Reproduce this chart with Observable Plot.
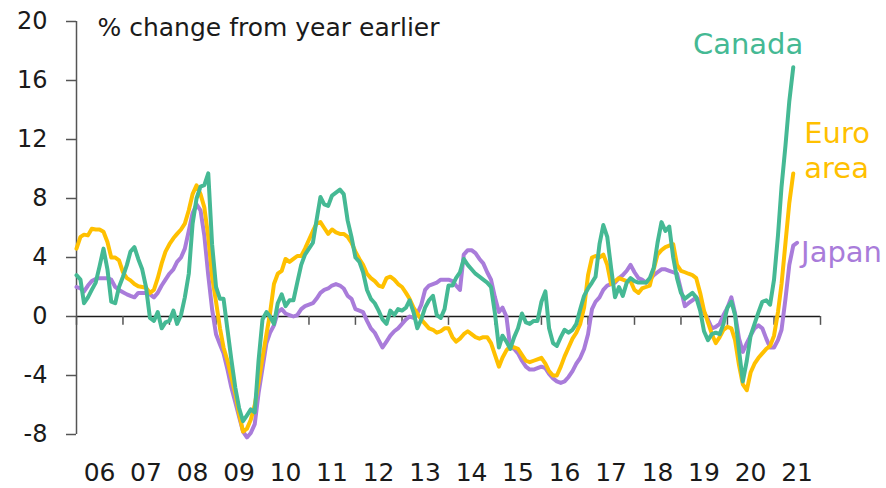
<!DOCTYPE html>
<html>
<head>
<meta charset="utf-8">
<script src="https://cdn.jsdelivr.net/npm/d3@7"></script>
<script src="https://cdn.jsdelivr.net/npm/@observablehq/plot@0.6"></script>
<style>
  html, body { margin: 0; padding: 0; background: #ffffff; }
  #chart { width: 886px; height: 488px; overflow: hidden; }
</style>
</head>
<body>
<div id="chart"></div>
<script>
// Monthly % change from a year earlier, starting Jan 2006
const canada = [
  2.8, 2.5, 0.9, 1.3, 1.8, 2.3, 3.4, 4.6, 3.2, 1.0, 0.9, 2.0,
  2.7, 3.5, 4.4, 4.7, 3.9, 3.2, 2.0, -0.1, -0.3, 0.3, -0.8, -0.4,
  -0.3, 0.4, -0.5, 0.1, 1.3, 2.9, 6.3, 8.0, 8.8, 8.9, 9.7, 4.9,
  2.0, 1.2, 1.2, -0.9, -2.9, -4.8, -6.2, -7.1, -6.7, -6.3, -6.5, -3.0,
  -0.2, 0.3, 0.0, -0.5, 0.9, 1.5, 0.7, 1.1, 1.1, 2.3, 3.5, 4.2,
  4.6, 5.0, 6.5, 8.1, 7.6, 7.5, 8.2, 8.4, 8.6, 8.3, 6.5, 5.4,
  4.0, 3.7, 3.0, 1.8, 1.2, 0.9, 0.4, -0.2, -0.5, 0.4, 0.1, 0.5,
  0.4, 0.6, 1.1, 0.3, -0.8, -0.2, 0.6, 1.1, 1.4, 0.1, -0.1, 0.5,
  2.1, 2.1, 2.6, 3.0, 3.9, 3.5, 3.2, 2.9, 2.7, 2.5, 2.3, 2.0,
  0.2, -2.1, -1.3, -1.7, -2.2, -1.4, -0.8, 0.2, -0.4, -0.5, -0.3, -0.3,
  1.0, 1.7, -0.8, -1.8, -2.0, -1.4, -0.9, -1.1, -0.9, -0.5, 0.5, 1.4,
  1.9, 2.3, 2.7, 4.9, 6.2, 5.4, 3.3, 1.3, 2.0, 1.4, 2.3, 2.6,
  2.4, 2.3, 2.3, 2.3, 2.6, 3.3, 5.0, 6.4, 5.8, 6.1, 4.0, 2.6,
  1.6, 1.2, 1.4, 1.6, 1.3, 0.4, -1.0, -1.6, -1.2, -1.1, -1.2, -0.5,
  0.6, 1.0, 0.1, -2.3, -4.4, -3.0, -1.3, -0.5, 0.3, 1.0, 1.1, 0.8,
  2.5, 5.5, 8.8, 11.6, 14.6, 16.9
];
const euroArea = [
  4.6, 5.4, 5.55, 5.5, 5.95, 5.9, 5.9, 5.75, 5.05, 4.0, 4.0, 3.8,
  3.0, 2.6, 2.45, 2.2, 2.05, 2.0, 1.95, 1.6, 1.8, 2.6, 3.6, 4.4,
  4.9, 5.3, 5.6, 5.9, 6.3, 7.2, 8.3, 8.9, 8.3, 7.4, 5.4, 2.7,
  1.0, -0.8, -2.1, -3.0, -4.1, -5.2, -6.6, -7.8, -7.6, -7.0, -6.0, -4.5,
  -2.8, -1.2, 0.2, 2.2, 2.9, 3.1, 3.9, 3.7, 3.9, 4.1, 4.1, 4.6,
  5.2, 5.8, 6.3, 6.4, 6.0, 5.6, 5.9, 5.7, 5.6, 5.6, 5.4, 5.0,
  4.4, 3.9, 3.5, 2.9, 2.6, 2.4, 2.1, 2.0, 2.6, 2.7, 2.5, 2.2,
  2.0, 1.6, 1.2, 0.6, 0.2, -0.2, -0.5, -0.8, -0.9, -1.1, -1.0, -0.8,
  -0.8, -1.4, -1.7, -1.5, -1.2, -1.0, -1.2, -1.4, -1.5, -1.4, -1.4, -1.8,
  -2.6, -3.4, -2.8, -2.3, -2.0, -2.1, -2.2, -2.6, -3.0, -3.1, -3.0, -2.9,
  -2.8, -3.2, -3.7, -4.0, -4.0, -3.4, -2.7, -2.1, -1.5, -1.1, -0.5, 0.6,
  2.8, 4.0, 4.1, 4.0, 4.2, 3.5, 2.2, 2.4, 2.6, 2.5, 2.4, 2.4,
  1.8, 1.6, 1.9, 2.0, 2.1, 3.2, 4.2, 4.5, 4.7, 4.8, 4.9, 3.5,
  3.1, 3.0, 2.9, 2.8, 2.6, 1.6, 0.4, -0.4, -1.2, -1.8, -1.4, -0.9,
  -0.7, -0.8, -1.6, -3.3, -4.6, -5.0, -3.8, -3.2, -2.8, -2.5, -2.2, -2.0,
  -1.3, 0.3, 2.2, 5.0, 7.7, 9.7
];
const japan = [
  2.0, 1.9, 1.7, 2.1, 2.4, 2.55, 2.6, 2.6, 2.6, 2.5, 2.0, 1.8,
  1.65, 1.5, 1.4, 1.3, 1.6, 1.6, 1.6, 1.5, 1.3, 1.6, 2.1, 2.5,
  2.9, 3.2, 3.7, 4.0, 4.6, 5.8, 7.0, 7.6, 7.2, 5.5, 2.8, 0.5,
  -1.2, -1.9, -2.5, -3.6, -4.8, -5.8, -6.8, -7.8, -8.2, -7.9, -7.3, -5.2,
  -3.5, -1.8, -1.1, -0.6, 0.3, 0.5, 0.2, 0.1, 0.0, 0.1, 0.5, 0.7,
  0.8, 0.9, 1.2, 1.6, 1.8, 1.9, 2.1, 2.2, 2.1, 1.9, 1.4, 1.2,
  0.5, 0.4, 0.3, -0.3, -0.8, -1.1, -1.6, -2.1, -1.7, -1.3, -1.0, -0.8,
  -0.5, -0.2, 0.0, -0.1, 0.2, 0.8, 1.8, 2.1, 2.2, 2.3, 2.5, 2.5,
  2.5, 2.4, 2.1, 1.8, 4.2, 4.5, 4.5, 4.3, 3.9, 3.6, 3.0, 2.5,
  1.3, 0.3, 0.6, 0.0, -2.1, -2.2, -2.5, -3.0, -3.4, -3.6, -3.6, -3.5,
  -3.4, -3.5, -3.9, -4.2, -4.4, -4.5, -4.4, -4.1, -3.7, -3.2, -2.8, -2.2,
  -1.2, 0.5, 1.0, 1.3, 1.8, 2.1, 2.2, 2.3, 2.6, 2.8, 3.1, 3.5,
  3.0, 2.6, 2.5, 2.3, 2.5, 2.8, 3.0, 3.2, 3.2, 3.1, 3.0, 2.9,
  1.8, 0.7, 0.9, 1.1, 1.3, 1.0, 0.3, -0.2, -0.8, -0.7, -0.5, 0.1,
  0.6, 1.3, 0.2, -1.5, -2.4, -1.8, -1.3, -0.8, -0.6, -0.8, -1.5, -2.1,
  -2.1, -1.6, -0.9, 1.2, 3.5, 4.8, 5.0
];

const yTicks = [-8, -4, 0, 4, 8, 12, 16, 20];
const yearLabels = ["06","07","08","09","10","11","12","13","14","15","16","17","18","19","20","21"];
const firstYear = 2006;
const titleText = "% change from year earlier";
const seriesNames = ["Canada", "Euro area", "Japan"];
const seriesLabels = ["Canada", "Euro\narea", "Japan"];
const seriesColors = ["#45B994", "#FFC000", "#A97CDA"];

const month = i => new Date(Date.UTC(firstYear, i, 1));
const seriesValues = [canada, euroArea, japan];
const rows = [];
// draw order: Japan, Euro area, Canada (Canada on top)
[2, 1, 0].forEach(k => {
  seriesValues[k].forEach((v, i) => rows.push({date: month(i), value: v, series: seriesNames[k]}));
});
const yearStarts = d3.range(yearLabels.length + 1).map(i => new Date(Date.UTC(firstYear + i, 0, 1)));
const yearMids = yearLabels.map((l, i) => ({date: new Date(Date.UTC(firstYear + i, 6, 1)), label: l}));
const ends = seriesValues.map((vals, k) => ({
  date: month(vals.length - 1), value: vals[vals.length - 1], label: seriesLabels[k], color: seriesColors[k]
}));

const chart = Plot.plot({
  width: 886,
  height: 488,
  marginLeft: 76,
  marginRight: 66,
  marginTop: 21,
  marginBottom: 54,
  x: {type: "utc", domain: [yearStarts[0], yearStarts[yearStarts.length - 1]], axis: null},
  y: {domain: [-8, 20], axis: null},
  color: {domain: seriesNames, range: seriesColors},
  style: {fontFamily: "DejaVu Sans", fontSize: "24px", color: "#1a1a1a", background: "#ffffff", overflow: "hidden"},
  marks: [
    Plot.ruleY([0], {stroke: "#1a1a1a", strokeWidth: 1.3}),
    Plot.ruleX(yearStarts, {x: d => d, y1: 0, y2: -0.6, stroke: "#555", strokeWidth: 1.5}),
    Plot.ruleX([yearStarts[0]], {x: d => d, y1: -8, y2: 20, stroke: "#555", strokeWidth: 1.5}),
    Plot.axisY({ticks: yTicks, tickSize: 10, tickPadding: 19, label: null, fontSize: 24, stroke: "#555", strokeWidth: 1.5, tickFormat: d => String(d)}),
    Plot.text(yearMids, {x: "date", text: "label", frameAnchor: "bottom", dy: 38, lineAnchor: "middle", fontSize: 25, fill: "#1a1a1a"}),
    Plot.line(rows, {x: "date", y: "value", z: "series", stroke: "series", strokeWidth: 4, strokeLinejoin: "round", strokeLinecap: "round"}),
    Plot.text([titleText], {frameAnchor: "top-left", dx: 21, dy: -3, lineAnchor: "top", textAnchor: "start", fontSize: 25, fill: "#1a1a1a"}),
    Plot.text([ends[0]], {x: "date", y: "value", text: "label", fill: "color", dx: 10, dy: -34, lineAnchor: "top", textAnchor: "end", fontSize: 29}),
    Plot.text([ends[1]], {x: "date", y: "value", text: "label", fill: "color", dx: 11, dy: -55, lineAnchor: "top", textAnchor: "start", fontSize: 29, lineHeight: 1.2}),
    Plot.text([ends[2]], {x: "date", y: "value", text: "label", fill: "color", dx: 4, dy: -1, lineAnchor: "top", textAnchor: "start", fontSize: 29})
  ]
});
document.getElementById("chart").appendChild(chart);
</script>
</body>
</html>
